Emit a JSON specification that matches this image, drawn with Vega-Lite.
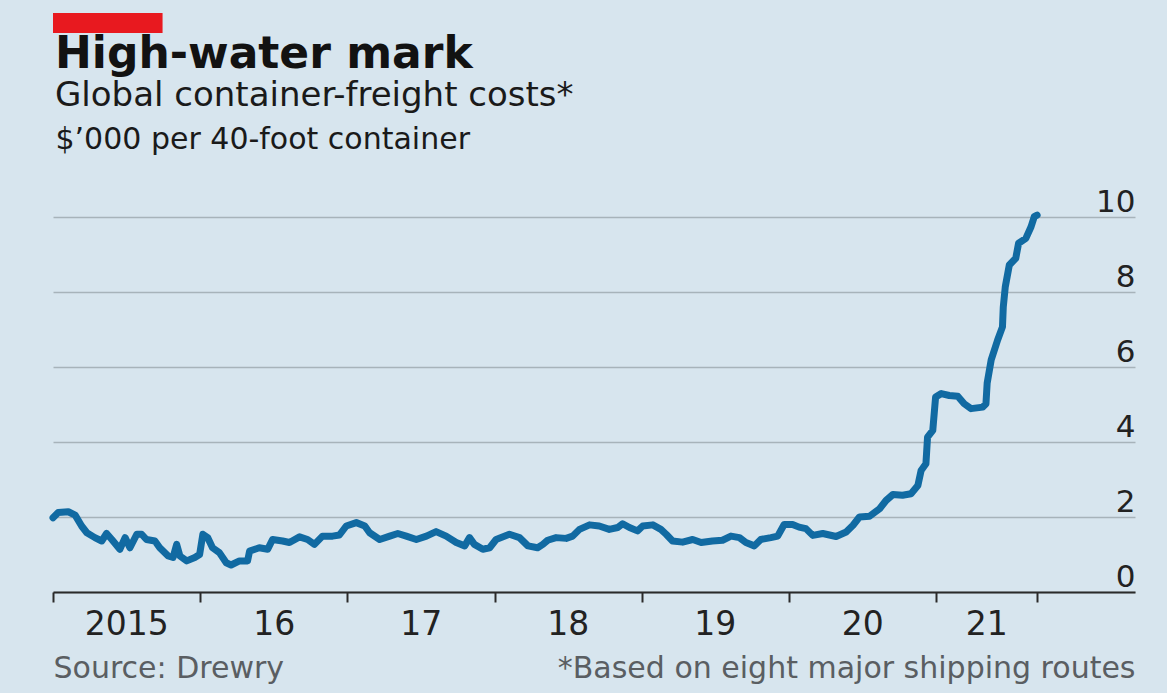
{
  "$schema": "https://vega.github.io/schema/vega-lite/v6.json",
  "width": 1082,
  "height": 375,
  "autosize": {"type": "none"},
  "padding": {"left": 53, "top": 217, "right": 32, "bottom": 101},
  "background": "#d7e5ee",
  "config": {"view": {"stroke": null}, "font": "DejaVu Sans"},
  "title": {
    "text": "High-water mark",
    "subtitle": "Global container-freight costs*",
    "anchor": "start",
    "frame": "group",
    "font": "DejaVu Sans",
    "fontSize": 44,
    "fontWeight": "bold",
    "color": "#121212",
    "subtitleFont": "DejaVu Sans",
    "subtitleFontSize": 34,
    "subtitleColor": "#1a1a1a",
    "subtitlePadding": 2,
    "offset": -100,
    "dx": 2
  },
  "data": {
    "values": [
      {"date": "2015-01-01", "value": 1.98},
      {"date": "2015-01-14", "value": 2.12},
      {"date": "2015-02-08", "value": 2.14},
      {"date": "2015-02-25", "value": 2.05},
      {"date": "2015-03-13", "value": 1.76},
      {"date": "2015-03-26", "value": 1.58},
      {"date": "2015-04-15", "value": 1.45},
      {"date": "2015-05-02", "value": 1.36},
      {"date": "2015-05-14", "value": 1.56},
      {"date": "2015-05-27", "value": 1.40},
      {"date": "2015-06-16", "value": 1.14},
      {"date": "2015-06-29", "value": 1.45},
      {"date": "2015-07-11", "value": 1.18},
      {"date": "2015-07-28", "value": 1.54},
      {"date": "2015-08-09", "value": 1.54},
      {"date": "2015-08-21", "value": 1.40},
      {"date": "2015-09-11", "value": 1.36},
      {"date": "2015-09-23", "value": 1.18},
      {"date": "2015-10-14", "value": 0.96},
      {"date": "2015-10-26", "value": 0.92},
      {"date": "2015-11-04", "value": 1.27},
      {"date": "2015-11-12", "value": 0.96},
      {"date": "2015-11-29", "value": 0.83},
      {"date": "2015-12-19", "value": 0.92},
      {"date": "2015-12-31", "value": 1.00},
      {"date": "2016-01-08", "value": 1.54},
      {"date": "2016-01-20", "value": 1.45},
      {"date": "2016-02-01", "value": 1.18},
      {"date": "2016-02-18", "value": 1.05},
      {"date": "2016-03-06", "value": 0.78},
      {"date": "2016-03-18", "value": 0.72},
      {"date": "2016-04-08", "value": 0.83},
      {"date": "2016-04-28", "value": 0.83},
      {"date": "2016-05-03", "value": 1.09},
      {"date": "2016-05-27", "value": 1.18},
      {"date": "2016-06-17", "value": 1.14},
      {"date": "2016-06-29", "value": 1.40},
      {"date": "2016-07-24", "value": 1.36},
      {"date": "2016-08-10", "value": 1.32},
      {"date": "2016-09-04", "value": 1.47},
      {"date": "2016-09-24", "value": 1.40},
      {"date": "2016-10-11", "value": 1.27},
      {"date": "2016-10-31", "value": 1.49},
      {"date": "2016-11-25", "value": 1.49},
      {"date": "2016-12-12", "value": 1.52},
      {"date": "2016-12-29", "value": 1.76},
      {"date": "2017-01-23", "value": 1.85},
      {"date": "2017-02-13", "value": 1.76},
      {"date": "2017-02-25", "value": 1.58},
      {"date": "2017-03-22", "value": 1.40},
      {"date": "2017-04-16", "value": 1.49},
      {"date": "2017-05-06", "value": 1.56},
      {"date": "2017-05-27", "value": 1.49},
      {"date": "2017-06-21", "value": 1.40},
      {"date": "2017-07-16", "value": 1.49},
      {"date": "2017-08-09", "value": 1.61},
      {"date": "2017-09-03", "value": 1.49},
      {"date": "2017-09-28", "value": 1.32},
      {"date": "2017-10-19", "value": 1.23},
      {"date": "2017-10-31", "value": 1.45},
      {"date": "2017-11-12", "value": 1.27},
      {"date": "2017-12-03", "value": 1.14},
      {"date": "2017-12-20", "value": 1.18},
      {"date": "2018-01-05", "value": 1.40},
      {"date": "2018-02-07", "value": 1.54},
      {"date": "2018-03-04", "value": 1.45},
      {"date": "2018-03-25", "value": 1.23},
      {"date": "2018-04-18", "value": 1.18},
      {"date": "2018-05-01", "value": 1.27},
      {"date": "2018-05-13", "value": 1.38},
      {"date": "2018-06-03", "value": 1.45},
      {"date": "2018-06-28", "value": 1.43},
      {"date": "2018-07-14", "value": 1.49},
      {"date": "2018-07-31", "value": 1.67},
      {"date": "2018-08-25", "value": 1.79},
      {"date": "2018-09-18", "value": 1.76},
      {"date": "2018-10-13", "value": 1.67},
      {"date": "2018-11-03", "value": 1.72},
      {"date": "2018-11-15", "value": 1.82},
      {"date": "2018-12-02", "value": 1.72},
      {"date": "2018-12-22", "value": 1.63},
      {"date": "2019-01-04", "value": 1.76},
      {"date": "2019-01-29", "value": 1.79},
      {"date": "2019-02-18", "value": 1.67},
      {"date": "2019-03-03", "value": 1.54},
      {"date": "2019-03-19", "value": 1.36},
      {"date": "2019-04-13", "value": 1.33},
      {"date": "2019-05-08", "value": 1.40},
      {"date": "2019-05-29", "value": 1.32},
      {"date": "2019-06-26", "value": 1.36},
      {"date": "2019-07-21", "value": 1.38},
      {"date": "2019-08-11", "value": 1.49},
      {"date": "2019-09-01", "value": 1.45},
      {"date": "2019-09-17", "value": 1.32},
      {"date": "2019-10-08", "value": 1.23},
      {"date": "2019-10-24", "value": 1.40},
      {"date": "2019-11-18", "value": 1.45},
      {"date": "2019-12-05", "value": 1.49},
      {"date": "2019-12-21", "value": 1.80},
      {"date": "2020-01-11", "value": 1.80},
      {"date": "2020-01-27", "value": 1.73},
      {"date": "2020-02-13", "value": 1.69},
      {"date": "2020-03-01", "value": 1.51},
      {"date": "2020-03-26", "value": 1.56},
      {"date": "2020-04-28", "value": 1.48},
      {"date": "2020-05-23", "value": 1.60},
      {"date": "2020-06-09", "value": 1.78},
      {"date": "2020-06-25", "value": 2.00},
      {"date": "2020-07-20", "value": 2.02},
      {"date": "2020-08-14", "value": 2.22},
      {"date": "2020-08-30", "value": 2.44},
      {"date": "2020-09-16", "value": 2.60},
      {"date": "2020-10-10", "value": 2.58},
      {"date": "2020-10-31", "value": 2.62},
      {"date": "2020-11-17", "value": 2.84},
      {"date": "2020-11-25", "value": 3.24},
      {"date": "2020-12-07", "value": 3.42},
      {"date": "2020-12-11", "value": 4.13},
      {"date": "2020-12-24", "value": 4.31},
      {"date": "2020-12-31", "value": 5.20},
      {"date": "2021-01-14", "value": 5.29},
      {"date": "2021-02-03", "value": 5.24},
      {"date": "2021-02-24", "value": 5.22},
      {"date": "2021-03-12", "value": 5.02},
      {"date": "2021-03-29", "value": 4.89},
      {"date": "2021-04-27", "value": 4.93},
      {"date": "2021-05-05", "value": 5.02},
      {"date": "2021-05-08", "value": 5.57},
      {"date": "2021-05-18", "value": 6.19},
      {"date": "2021-06-03", "value": 6.72},
      {"date": "2021-06-15", "value": 7.07},
      {"date": "2021-06-17", "value": 7.60},
      {"date": "2021-06-22", "value": 8.14},
      {"date": "2021-07-02", "value": 8.72},
      {"date": "2021-07-18", "value": 8.90},
      {"date": "2021-07-25", "value": 9.30},
      {"date": "2021-08-12", "value": 9.43},
      {"date": "2021-08-25", "value": 9.74},
      {"date": "2021-09-02", "value": 10.01},
      {"date": "2021-09-09", "value": 10.05}
    ]
  },
  "resolve": {"axis": {"x": "independent", "y": "independent"}},
  "layer": [
    {
      "mark": {"type": "line", "color": "#116aa2", "strokeWidth": 7, "strokeJoin": "round", "strokeCap": "round"},
      "encoding": {
        "x": {
          "field": "date",
          "type": "temporal",
          "scale": {
            "type": "utc",
            "nice": false,
            "domain": [
              {"year": 2015, "month": 1, "date": 1, "utc": true},
              {"year": 2022, "month": 5, "date": 10, "utc": true}
            ]
          },
          "axis": {
            "orient": "bottom",
            "zindex": 1,
            "grid": false,
            "labels": false,
            "ticks": true,
            "tickSize": 10,
            "tickWidth": 2,
            "tickColor": "#2a2a2a",
            "domain": true,
            "domainColor": "#2a2a2a",
            "domainWidth": 2,
            "values": [
              {"year": 2015, "month": 1, "date": 1, "utc": true},
              {"year": 2016, "month": 1, "date": 1, "utc": true},
              {"year": 2017, "month": 1, "date": 1, "utc": true},
              {"year": 2018, "month": 1, "date": 1, "utc": true},
              {"year": 2019, "month": 1, "date": 1, "utc": true},
              {"year": 2020, "month": 1, "date": 1, "utc": true},
              {"year": 2021, "month": 1, "date": 1, "utc": true},
              {"year": 2021, "month": 9, "date": 9, "utc": true}
            ],
            "title": "Source: Drewry",
            "titleX": 0,
            "titleY": 85,
            "titleAlign": "left",
            "titleAnchor": "start",
            "titleBaseline": "alphabetic",
            "titleFont": "DejaVu Sans",
            "titleFontSize": 30,
            "titleFontWeight": "normal",
            "titleColor": "#5a5e62"
          }
        },
        "y": {
          "field": "value",
          "type": "quantitative",
          "scale": {"domain": [0, 10], "nice": false},
          "axis": {
            "orient": "right",
            "values": [0, 2, 4, 6, 8, 10],
            "grid": true,
            "gridColor": "#a7b3ba",
            "gridWidth": 1.5,
            "domain": false,
            "ticks": false,
            "tickSize": 0,
            "labelPadding": 0,
            "labelAlign": "right",
            "labelBaseline": "alphabetic",
            "labelOffset": -6,
            "labelFont": "DejaVu Sans",
            "labelFontSize": 31,
            "labelColor": "#222222",
            "title": "$’000 per 40-foot container",
            "titleX": -1080,
            "titleY": -69,
            "titleAngle": 0,
            "titleAlign": "left",
            "titleBaseline": "alphabetic",
            "titleFont": "DejaVu Sans",
            "titleFontSize": 30,
            "titleFontWeight": "normal",
            "titleColor": "#1a1a1a"
          }
        }
      }
    },
    {
      "data": {"values": [{"tag": "economist"}]},
      "mark": {"type": "rect", "color": "#e8191f"},
      "encoding": {
        "x": {
          "datum": {"year": 2015, "month": 1, "date": 1, "utc": true},
          "type": "temporal",
          "axis": {
            "orient": "bottom",
            "grid": false,
            "domain": false,
            "ticks": false,
            "tickSize": 0,
            "labelFlush": false,
            "labelPadding": 42,
            "labelBaseline": "alphabetic",
            "labelFont": "DejaVu Sans",
            "labelFontSize": 33,
            "labelColor": "#222222",
            "values": [
              {"year": 2015, "month": 7, "date": 2, "utc": true},
              {"year": 2016, "month": 7, "date": 2, "utc": true},
              {"year": 2017, "month": 7, "date": 2, "utc": true},
              {"year": 2018, "month": 7, "date": 2, "utc": true},
              {"year": 2019, "month": 7, "date": 2, "utc": true},
              {"year": 2020, "month": 7, "date": 2, "utc": true},
              {"year": 2021, "month": 5, "date": 6, "utc": true}
            ],
            "labelExpr": "utcyear(datum.value) == 2015 ? '2015' : utcFormat(datum.value, '%y')",
            "title": "*Based on eight major shipping routes",
            "titleX": 1082,
            "titleY": 85,
            "titleAlign": "right",
            "titleAnchor": "end",
            "titleBaseline": "alphabetic",
            "titleFont": "DejaVu Sans",
            "titleFontSize": 30,
            "titleFontWeight": "normal",
            "titleColor": "#5a5e62"
          }
        },
        "x2": {"datum": {"year": 2015, "month": 9, "date": 30, "utc": true}},
        "y": {"datum": 15.44, "type": "quantitative", "axis": null},
        "y2": {"datum": 14.91}
      }
    }
  ]
}
